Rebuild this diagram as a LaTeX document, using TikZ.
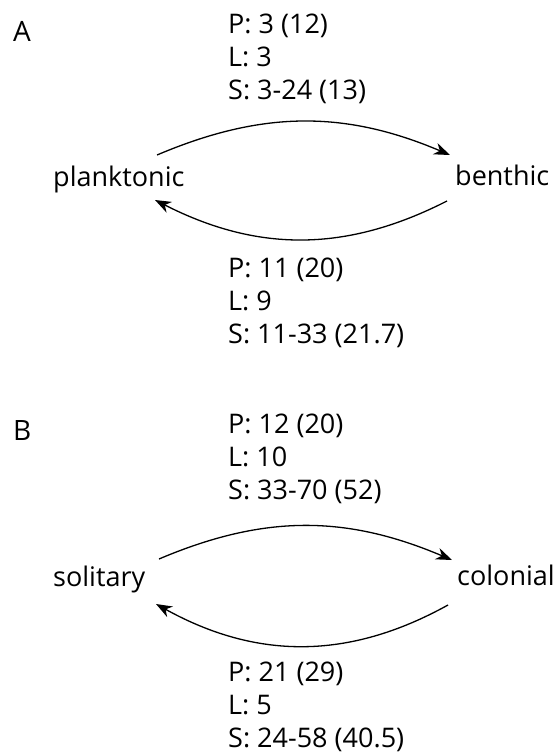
\documentclass[tikz,border=0pt]{standalone}
\usepackage{fontspec}
\setmainfont{Open Sans}
\usetikzlibrary{arrows.meta}

\tikzset{
  panel/.style={inner sep=0pt, anchor=base west, font=\fontsize{28}{33}\selectfont},
  state/.style={inner sep=0pt, anchor=base west, font=\fontsize{27}{33}\selectfont},
  counts/.style={inner sep=0pt, anchor=north west, align=left, font=\fontsize{27}{33}\selectfont},
  trans/.style={line width=1.3pt, -{Stealth[length=16pt,width=12pt,inset=5pt]}},
}

\begin{document}
\begin{tikzpicture}[x=1pt,y=1pt]
  \useasboundingbox (0,0) rectangle (557,-755);

  % panel A: planktonic <-> benthic
  \node[panel] (pa) at (13,-41) {A};
  \node[state] (plank) at (53,-186) {planktonic};
  \node[state] (benth) at (455,-185) {benthic};
  \node[counts] (a1) at (228,-9.9) {\strut P: 3 (12)\\L: 3\\S: 3-24 (13)};
  \node[counts] (a2) at (228,-253.9) {\strut P: 11 (20)\\L: 9\\S: 11-33 (21.7)};
  \draw[trans] ([shift={(104,31)}]plank.base west) to[out=23,in=157]
               ([shift={(-5,30)}]benth.base west);
  \draw[trans] ([shift={(-8,-16)}]benth.base west) to[out=207,in=-27]
               ([shift={(102,-14)}]plank.base west);

  % panel B: solitary <-> colonial
  \node[panel] (pb) at (13,-440) {B};
  \node[state] (solit) at (53,-586) {solitary};
  \node[state] (colon) at (457,-585) {colonial};
  \node[counts] (b1) at (228,-409.9) {\strut P: 12 (20)\\L: 10\\S: 33-70 (52)};
  \node[counts] (b2) at (228,-657.9) {\strut P: 21 (29)\\L: 5\\S: 24-58 (40.5)};
  \draw[trans] ([shift={(106,27)}]solit.base west) to[out=23,in=157]
               ([shift={(-5,25)}]colon.base west);
  \draw[trans] ([shift={(-9,-20)}]colon.base west) to[out=209,in=-29]
               ([shift={(103,-18)}]solit.base west);
\end{tikzpicture}
\end{document}
